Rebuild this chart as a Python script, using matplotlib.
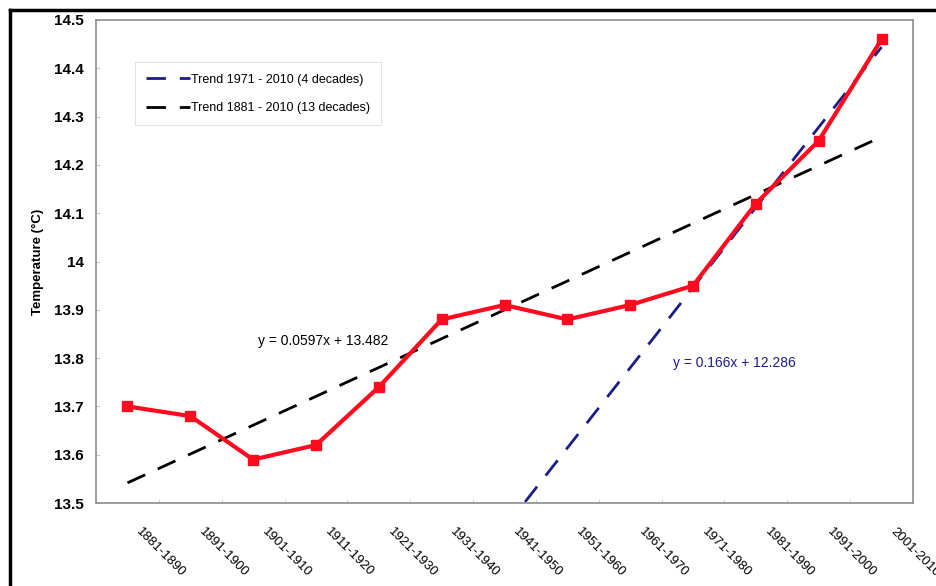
import numpy as np
import matplotlib.pyplot as plt
from matplotlib.lines import Line2D
from matplotlib.ticker import FuncFormatter
from matplotlib.transforms import ScaledTranslation

decades = ['1881-1890', '1891-1900', '1901-1910', '1911-1920', '1921-1930',
           '1931-1940', '1941-1950', '1951-1960', '1961-1970', '1971-1980',
           '1981-1990', '1991-2000', '2001-2010']
temps = [13.70, 13.68, 13.59, 13.62, 13.74, 13.88, 13.91, 13.88, 13.91,
         13.95, 14.12, 14.25, 14.46]

# linear trends, x = decade number (1..13)
slope_all, icpt_all = 0.0597, 13.482
slope_4, icpt_4 = 0.166, 12.286

plt.rcParams['font.family'] = ['Liberation Sans', 'DejaVu Sans']

fig = plt.figure(figsize=(9.36, 5.86), dpi=100)
ax = fig.add_axes([0.1026, 0.1416, 0.8728, 0.8243])

xn = np.arange(1, len(decades) + 1)

l4, = ax.plot(xn[6:], slope_4 * xn[6:] + icpt_4, color='#1c1c8a', lw=2,
              dashes=(7, 5), label='Trend 1971 - 2010 (4 decades)')
lall, = ax.plot(xn, slope_all * xn + icpt_all, color='black', lw=2,
                dashes=(7, 5), label='Trend 1881 - 2010 (13 decades)')
ax.plot(xn, temps, color='#ff0a1e', lw=3, marker='s', ms=7.5, zorder=5)

ax.set_xlim(0.5, len(decades) + 0.5)
ax.set_ylim(13.5, 14.5)
ax.set_yticks(np.arange(13.5, 14.51, 0.1))
ax.yaxis.set_major_formatter(FuncFormatter(lambda v, p: '%g' % round(v, 1)))
ax.set_xticks(xn)
ax.set_xticklabels(decades, rotation=-45, ha='left', va='top',
                   rotation_mode='anchor', fontsize=9.5)
ax.set_xticks(np.arange(1.5, len(decades), 1), minor=True)
ax.tick_params(axis='x', which='major', length=0, pad=16)
ax.tick_params(axis='x', which='minor', length=3, direction='in',
               color='#cccccc')
ax.tick_params(axis='y', length=3, direction='in', color='#cccccc',
               labelsize=11, pad=9)
for t in ax.get_yticklabels():
    t.set_fontweight('bold')
shift = ScaledTranslation(0.15, 0, fig.dpi_scale_trans)
for t in ax.get_xticklabels():
    t.set_transform(t.get_transform() + shift)

for s in ax.spines.values():
    s.set_color('#8c8c8c')
    s.set_linewidth(1.2)

ax.set_ylabel('Temperature (°C)', fontsize=9.5, fontweight='bold')
ax.yaxis.set_label_coords(-0.064, 0.5)

ax.text(3.07, 13.835, 'y = 0.0597x + 13.482', fontsize=10, color='black',
        va='center')
ax.text(9.68, 13.79, 'y = 0.166x + 12.286', fontsize=10, color='#1c1c8a',
        va='center')

leg = ax.legend(handles=[l4, lall], loc='upper left',
                bbox_to_anchor=(0.04, 0.925), fontsize=9, frameon=True,
                fancybox=False, borderpad=0.9, labelspacing=1.3,
                handlelength=3.5, handletextpad=0.1)
leg.get_frame().set_edgecolor('#dddddd')
leg.get_frame().set_linewidth(0.8)

# outer frame along the top and left of the figure
fig.add_artist(Line2D([0.0107, 0.0107], [0, 0.983], color='black', lw=2.5))
fig.add_artist(Line2D([0.0107, 1.0], [0.983, 0.983], color='black', lw=2.5))

fig.savefig('out.png', dpi=100)
